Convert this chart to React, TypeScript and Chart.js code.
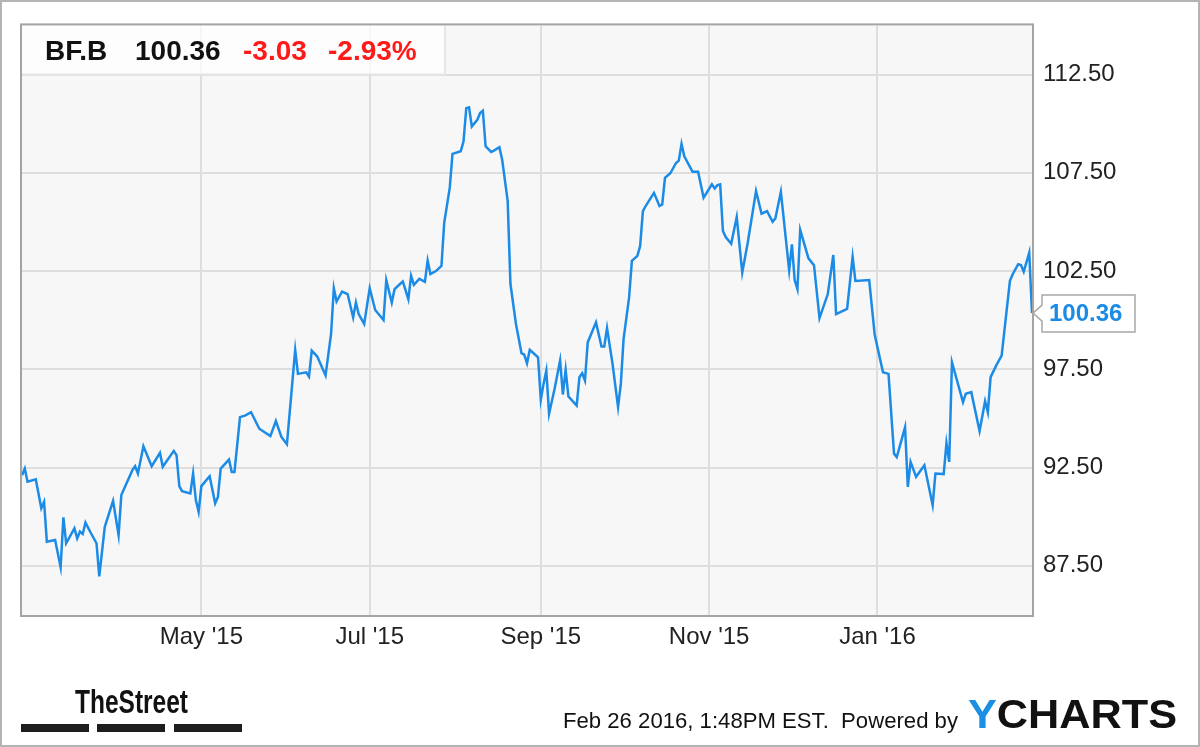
import React, { useEffect, useRef } from "react";
import { Chart, registerables } from "chart.js";

Chart.register(...registerables);

// Day offsets counted from Feb 25 2015
const tradingDays = [
  0, 1, 2, 5, 7, 8, 9, 12, 14, 15, 16, 19, 20, 21, 22, 23, 25, 27, 28, 30,
  33, 35, 36, 40, 41, 42, 44, 47, 50, 51, 55, 56, 57, 58, 61, 62, 63, 64, 65, 68,
  70, 71, 72, 75, 76, 77, 79, 81, 83, 86, 90, 92, 94, 96, 99, 100, 103, 104, 105, 107,
  110, 112, 113, 114, 116, 118, 120, 121, 122, 124, 126, 128, 131, 132, 134, 135, 137, 138, 140, 141,
  142, 144, 146, 147, 148, 150, 152, 153, 155, 156, 159, 160, 161, 162, 163, 165, 166, 167, 168, 170,
  171, 173, 174, 176, 177, 179, 181, 182, 183, 184, 185, 187, 188, 189, 190, 191, 193, 195, 196, 197,
  198, 201, 202, 203, 204, 205, 208, 210, 211, 212, 214, 216, 217, 218, 220, 221, 223, 224, 225, 226,
  229, 231, 232, 233, 235, 237, 238, 239, 240, 243, 245, 247, 250, 251, 252, 253, 254, 255, 257, 259,
  261, 263, 266, 268, 270, 272, 273, 275, 278, 279, 280, 281, 282, 285, 287, 289, 292, 294, 295, 299,
  301, 302, 307, 309, 312, 314, 316, 317, 320, 321, 322, 324, 327, 330, 331, 334, 335, 336, 337, 341,
  342, 344, 347, 349, 350, 351, 353, 355, 358, 359, 361, 362, 363, 365, 366,
];

const closePrices = [
  92.11, 92.45, 91.78, 91.9, 90.43, 90.76, 88.73, 88.82, 87.43, 89.97, 88.65, 89.41, 88.9, 89.24, 89.12, 89.7, 89.16, 88.65, 86.96, 89.49,
  90.81, 89.07, 91.1, 92.37, 92.57, 92.2, 93.59, 92.57, 93.25, 92.54, 93.35, 93.13, 91.56, 91.3, 91.19, 92.2, 90.85, 90.25, 91.56, 92.06,
  90.68, 91.01, 92.45, 92.91, 92.28, 92.28, 95.07, 95.16, 95.32, 94.48, 94.1, 94.87, 94.06, 93.69, 98.49, 97.27, 97.35, 97.13, 98.45, 98.15,
  97.19, 99.3, 101.63, 100.95, 101.46, 101.33, 100.14, 100.9, 100.31, 99.81, 101.63, 100.52, 100.01, 102.04, 100.9, 101.58, 101.84, 101.97, 101.07, 102.26,
  101.8, 102.1, 101.95, 103.03, 102.35, 102.5, 102.76, 104.96, 106.73, 108.46, 108.6, 109.1, 110.79, 110.83, 109.86, 110.2, 110.54, 110.66, 108.85, 108.56,
  108.63, 108.8, 108.17, 106.06, 101.84, 99.81, 98.32, 98.25, 97.81, 98.49, 98.37, 98.11, 95.95, 96.76, 97.44, 95.24, 96.51, 97.95, 96.22, 97.47,
  96.12, 95.66, 97.1, 97.3, 96.93, 98.87, 99.89, 98.66, 98.66, 99.6, 97.78, 95.58, 96.76, 99.05, 101.16, 103.02, 103.27, 103.78, 105.55, 105.81,
  106.48, 105.81, 105.89, 107.24, 107.49, 108.0, 108.12, 108.97, 108.34, 107.55, 107.55, 106.23, 106.91, 106.7, 106.87, 106.91, 104.54, 104.23, 103.89, 105.25,
  102.42, 103.95, 106.57, 105.42, 105.55, 105.01, 105.18, 106.53, 102.54, 103.86, 102.04, 101.58, 104.6, 103.15, 102.8, 100.11, 101.33, 103.32, 100.31, 100.57,
  103.22, 102.0, 102.04, 99.26, 97.35, 97.27, 93.21, 93.04, 94.56, 91.52, 92.79, 92.03, 92.62, 90.59, 92.2, 92.17, 93.75, 92.79, 97.86, 95.83,
  96.26, 96.34, 94.36, 95.88, 95.32, 97.1, 97.69, 98.2, 102.0, 102.34, 102.85, 102.81, 102.47, 103.44, 100.36,
];

const monthTickDays = [65, 126, 188, 249, 310];
const monthTickLabels = ["May '15", "Jul '15", "Sep '15", "Nov '15", "Jan '16"];
const priceTicks = [87.5, 92.5, 97.5, 102.5, 107.5, 112.5];

const ticker = "BF.B";
const lastPrice = 100.36;
const changeText = "-3.03";
const changePctText = "-2.93%";
const stampText = "Feb 26 2016, 1:48PM EST.  Powered by";

const FONT = "'Liberation Sans', Arial, Helvetica, sans-serif";
const LINE_BLUE = "#1b8be6";

const decorPlugin = {
  id: "decor",
  beforeDraw(chart: any) {
    const { ctx, chartArea: a } = chart;
    ctx.save();
    ctx.fillStyle = "#ffffff";
    ctx.fillRect(0, 0, chart.width, chart.height);
    ctx.fillStyle = "#f7f7f7";
    ctx.fillRect(a.left, a.top, a.right - a.left, a.bottom - a.top);
    ctx.restore();
  },
  beforeDatasetsDraw(chart: any) {
    const { ctx, chartArea: a } = chart;
    ctx.save();
    ctx.fillStyle = "rgba(255,255,255,0.72)";
    ctx.fillRect(a.left, a.top, 423, 49);
    ctx.strokeStyle = "#e6e6e6";
    ctx.lineWidth = 2;
    ctx.beginPath();
    ctx.moveTo(a.left, a.top + 49);
    ctx.lineTo(a.left + 423, a.top + 49);
    ctx.lineTo(a.left + 423, a.top);
    ctx.stroke();
    ctx.restore();
  },
  afterDraw(chart: any) {
    const { ctx, chartArea: a } = chart;
    const yScale = chart.scales.y;
    ctx.save();

    // plot border
    ctx.strokeStyle = "#a4a4a4";
    ctx.lineWidth = 2;
    ctx.strokeRect(a.left - 1, a.top - 1, a.right - a.left + 2, a.bottom - a.top + 2);

    // outer border
    ctx.strokeStyle = "#b4b4b4";
    ctx.lineWidth = 2;
    ctx.strokeRect(1, 1, chart.width - 2, chart.height - 2);

    // header text
    ctx.textBaseline = "alphabetic";
    ctx.textAlign = "left";
    ctx.font = `bold 28px ${FONT}`;
    ctx.fillStyle = "#111111";
    ctx.fillText(ticker, 45, 60);
    ctx.fillText(lastPrice.toFixed(2), 135, 60);
    ctx.fillStyle = "#ff1a1a";
    ctx.fillText(changeText, 243, 60);
    ctx.fillText(changePctText, 328, 60);

    // last price tag
    const py = yScale.getPixelForValue(lastPrice);
    const bx = a.right + 10;
    ctx.beginPath();
    ctx.moveTo(a.right + 1, py);
    ctx.lineTo(bx, py - 8);
    ctx.lineTo(bx, py - 18);
    ctx.lineTo(bx + 93, py - 18);
    ctx.lineTo(bx + 93, py + 19);
    ctx.lineTo(bx, py + 19);
    ctx.lineTo(bx, py + 8);
    ctx.closePath();
    ctx.fillStyle = "#ffffff";
    ctx.fill();
    ctx.strokeStyle = "#a8a8a8";
    ctx.lineWidth = 1.5;
    ctx.stroke();
    ctx.font = `bold 24px ${FONT}`;
    ctx.fillStyle = LINE_BLUE;
    ctx.textBaseline = "middle";
    ctx.fillText(lastPrice.toFixed(2), bx + 7, py + 1);

    // TheStreet logo
    ctx.textBaseline = "alphabetic";
    ctx.font = `bold 34px ${FONT}`;
    const tw = ctx.measureText("TheStreet").width;
    ctx.save();
    ctx.translate(75, 713);
    ctx.scale(113 / tw, 1);
    ctx.fillStyle = "#111111";
    ctx.fillText("TheStreet", 0, 0);
    ctx.restore();
    ctx.fillStyle = "#1e1e1e";
    ctx.fillRect(21, 724, 68, 8);
    ctx.fillRect(97, 724, 68, 8);
    ctx.fillRect(174, 724, 68, 8);

    // footer stamp
    ctx.font = `22px ${FONT}`;
    ctx.fillStyle = "#111111";
    const sw = ctx.measureText(stampText).width;
    ctx.save();
    ctx.translate(563, 728);
    ctx.scale(395 / sw, 1);
    ctx.fillText(stampText, 0, 0);
    ctx.restore();

    // YCHARTS logo
    ctx.font = `bold 41px ${FONT}`;
    const yw = ctx.measureText("Y").width;
    const cw = ctx.measureText("CHARTS").width;
    const sx = 209 / (yw + cw);
    ctx.save();
    ctx.translate(968, 728);
    ctx.scale(sx, 1);
    ctx.fillStyle = "#1a8fe3";
    ctx.fillText("Y", 0, 0);
    ctx.fillStyle = "#111111";
    ctx.fillText("CHARTS", yw, 0);
    ctx.restore();

    ctx.restore();
  },
};

export default function App() {
  const canvasRef = useRef<HTMLCanvasElement | null>(null);

  useEffect(() => {
    if (!canvasRef.current) return;
    const points = tradingDays.map((d, i) => ({ x: d, y: closePrices[i] }));
    const chart = new Chart(canvasRef.current, {
      type: "line",
      data: {
        datasets: [
          {
            data: points,
            borderColor: LINE_BLUE,
            borderWidth: 2.5,
            pointRadius: 0,
            tension: 0,
            fill: false,
          },
        ],
      },
      options: {
        animation: false,
        responsive: false,
        devicePixelRatio: 1,
        layout: { padding: { left: 22, top: 22, right: 0, bottom: 0 } },
        plugins: { legend: { display: false }, tooltip: { enabled: false } },
        scales: {
          x: {
            type: "linear",
            min: 0,
            max: 366,
            afterBuildTicks: (scale: any) => {
              scale.ticks = monthTickDays.map((v) => ({ value: v }));
            },
            afterFit: (scale: any) => {
              scale.height = 132;
            },
            ticks: {
              autoSkip: false,
              maxRotation: 0,
              padding: 8,
              color: "#222222",
              font: { family: FONT, size: 24 },
              callback: (_v: any, i: number) => monthTickLabels[i],
            },
            grid: { color: "#dedede", lineWidth: 2, drawTicks: false },
            border: { display: false },
          },
          y: {
            type: "linear",
            position: "right",
            min: 85,
            max: 115,
            afterBuildTicks: (scale: any) => {
              scale.ticks = priceTicks.map((v) => ({ value: v }));
            },
            afterFit: (scale: any) => {
              scale.width = 168;
            },
            ticks: {
              padding: 11,
              color: "#222222",
              font: { family: FONT, size: 24 },
              callback: (v: any) => Number(v).toFixed(2),
            },
            grid: { color: "#dedede", lineWidth: 2, drawTicks: false },
            border: { display: false },
          },
        },
      },
      plugins: [decorPlugin],
    });
    return () => chart.destroy();
  }, []);

  return (
    <div style={{ position: "absolute", left: 0, top: 0, width: 1200, height: 747 }}>
      <canvas ref={canvasRef} width={1200} height={747} style={{ width: 1200, height: 747, display: "block" }} />
    </div>
  );
}
